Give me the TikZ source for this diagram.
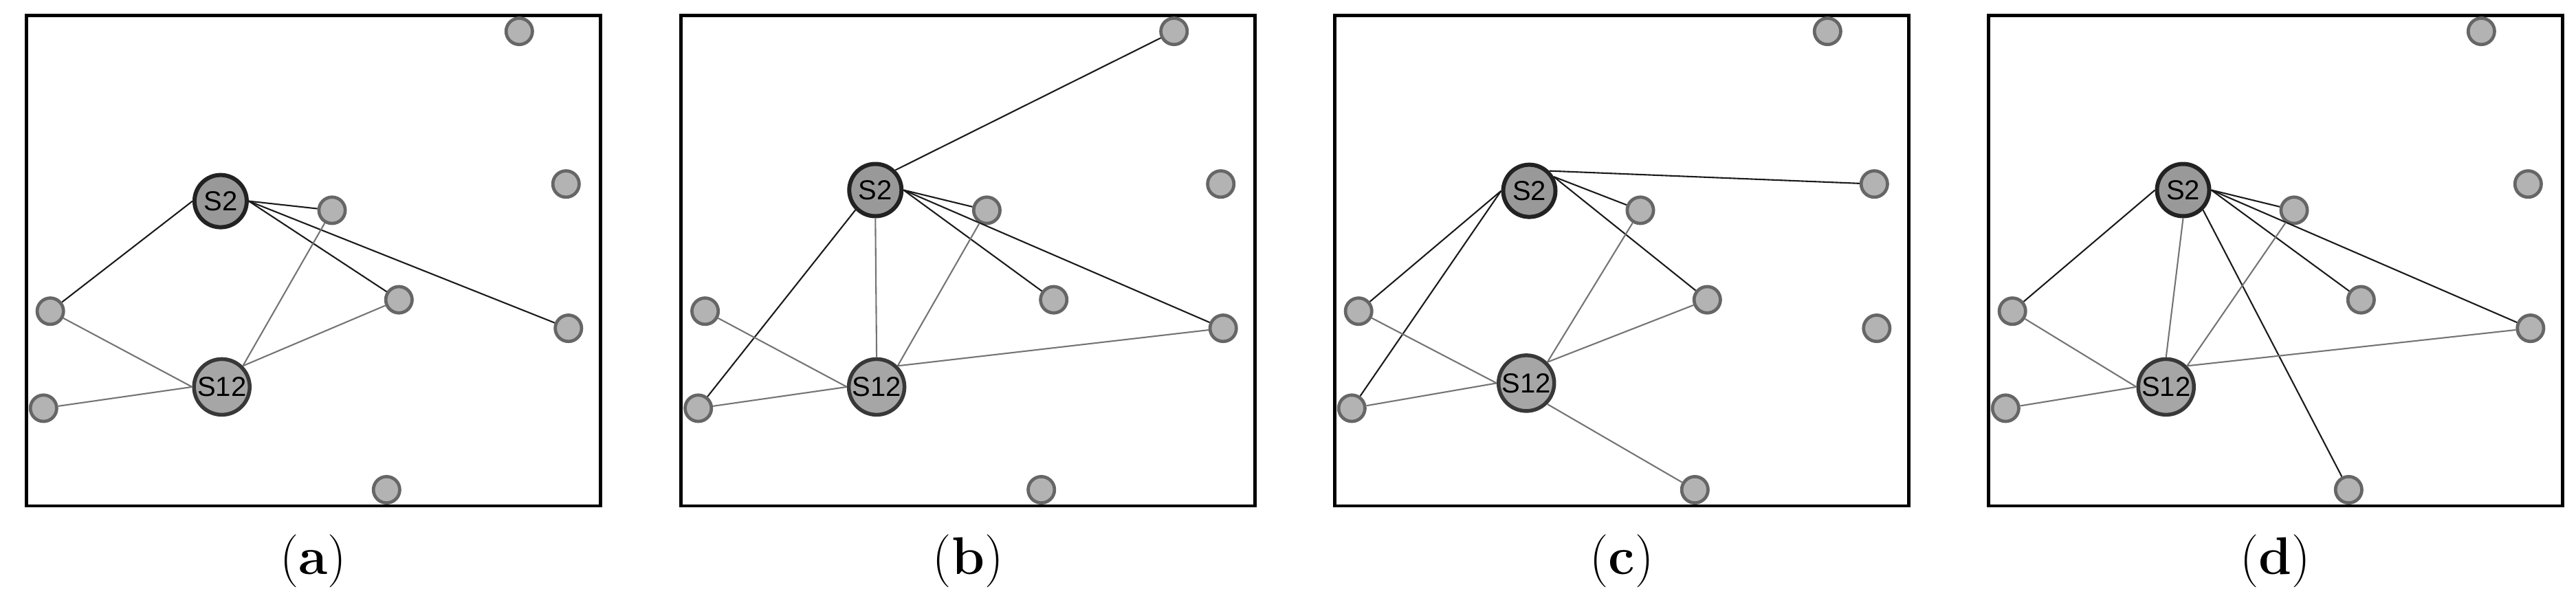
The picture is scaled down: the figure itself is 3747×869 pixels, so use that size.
\documentclass[tikz,border=0pt]{standalone}
\usepackage{fontspec}
\newfontfamily\nodefont{Liberation Sans}
\definecolor{bigfillA}{HTML}{999999}
\definecolor{bigfillB}{HTML}{A6A6A6}
\definecolor{bigdrawA}{HTML}{222222}
\definecolor{bigdrawB}{HTML}{383838}
\definecolor{smallfill}{HTML}{B3B3B3}
\definecolor{smalldraw}{HTML}{666666}
\definecolor{blackedge}{HTML}{1A1A1A}
\definecolor{grayedge}{HTML}{747474}
\tikzset{
  sn/.style={circle, draw=smalldraw, fill=smallfill, line width=0.94pt, minimum size=7.66pt, inner sep=0pt},
  hubA/.style={circle, draw=bigdrawA, fill=bigfillA, line width=1.2pt, minimum size=15.2pt, inner sep=0pt, font=\nodefont\fontsize{8}{8}\selectfont},
  hubB/.style={circle, draw=bigdrawB, fill=bigfillB, line width=1.1pt, minimum size=16.2pt, inner sep=0pt, font=\nodefont\fontsize{8}{8}\selectfont},
  frame/.style={draw=black, line width=0.92pt},
  bedge/.style={draw=blackedge, line width=0.42pt},
  gedge/.style={draw=grayedge, line width=0.42pt},
  caption/.style={anchor=base, inner sep=0pt, font=\fontsize{15.4}{18}\selectfont}
}
\begin{document}
\begin{tikzpicture}[x=0.2pt, y=-0.2pt]
\useasboundingbox (0,0) rectangle (3747,869);
% ---------- panel (a)
\begin{scope}[shift={(38.3,0)}]
\draw[frame] (0,22.3) rectangle (835,736);
\node[sn] (an1) at (717,45.6) {};
\node[sn] (an2) at (785,267.7) {};
\node[sn] (an3) at (444.7,305.9) {};
\node[sn] (an4) at (542,436.1) {};
\node[sn] (an5) at (788.5,477.6) {};
\node[sn] (an6) at (34.9,452.7) {};
\node[sn] (an7) at (25,593.9) {};
\node[sn] (an8) at (524,712.5) {};
\node[hubA] (aS2) at (282.6,292.6) {S2};
\node[hubB] (aS12) at (284.4,562.9) {S12};
\draw[bedge] (aS2.west) -- (an6);
\draw[bedge] (aS2.east) -- (an3);
\draw[bedge] (aS2.east) -- (an4);
\draw[bedge] (aS2.east) -- (an5);
\draw[gedge] (aS12.west) -- (an6);
\draw[gedge] (aS12.west) -- (an7);
\draw[gedge] (aS12.north east) -- (an3);
\draw[gedge] (aS12.north east) -- (an4);
\node[caption] (acap) at (417.5,835) {(\textbf{a})};
\end{scope}
% ---------- panel (b)
\begin{scope}[shift={(990.7,0)}]
\draw[frame] (0,22.3) rectangle (835,736);
\node[sn] (bn1) at (717,45.6) {};
\node[sn] (bn2) at (785,267.7) {};
\node[sn] (bn3) at (444.7,305.9) {};
\node[sn] (bn4) at (542,436.1) {};
\node[sn] (bn5) at (788.5,477.6) {};
\node[sn] (bn6) at (34.9,452.7) {};
\node[sn] (bn7) at (25,593.9) {};
\node[sn] (bn8) at (524,712.5) {};
\node[hubA] (bS2) at (282.6,276.5) {S2};
\node[hubB] (bS12) at (284.4,562.9) {S12};
\draw[bedge] (bS2.north east) -- (bn1);
\draw[bedge] (bS2.east) -- (bn3);
\draw[bedge] (bS2.east) -- (bn4);
\draw[bedge] (bS2.east) -- (bn5);
\draw[bedge] (bS2.south west) -- (bn7);
\draw[gedge] (bS12.north) -- (bS2.south);
\draw[gedge] (bS12.west) -- (bn6);
\draw[gedge] (bS12.west) -- (bn7);
\draw[gedge] (bS12.north east) -- (bn3);
\draw[gedge] (bS12.north east) -- (bn5);
\node[caption] (bcap) at (417.5,835) {(\textbf{b})};
\end{scope}
% ---------- panel (c)
\begin{scope}[shift={(1941.3,0)}]
\draw[frame] (0,22.3) rectangle (835,736);
\node[sn] (cn1) at (717,45.6) {};
\node[sn] (cn2) at (785,267.7) {};
\node[sn] (cn3) at (444.7,305.9) {};
\node[sn] (cn4) at (542,436.1) {};
\node[sn] (cn5) at (788.5,477.6) {};
\node[sn] (cn6) at (34.9,452.7) {};
\node[sn] (cn7) at (25,593.9) {};
\node[sn] (cn8) at (524,712.5) {};
\node[hubA] (cS2) at (283.2,277.6) {S2};
\node[hubB] (cS12) at (278.9,557.4) {S12};
\draw[bedge] (cS2.north east) -- (cn2);
\draw[bedge] (cS2.30) -- (cn3);
\draw[bedge] (cS2.30) -- (cn4);
\draw[bedge] (cS2.west) -- (cn6);
\draw[bedge] (cS2.west) -- (cn7);
\draw[gedge] (cS12.west) -- (cn6);
\draw[gedge] (cS12.west) -- (cn7);
\draw[gedge] (cS12.north east) -- (cn3);
\draw[gedge] (cS12.north east) -- (cn4);
\draw[gedge] (cS12.south east) -- (cn8);
\node[caption] (ccap) at (417.5,835) {(\textbf{c})};
\end{scope}
% ---------- panel (d)
\begin{scope}[shift={(2892.3,0)}]
\draw[frame] (0,22.3) rectangle (835,736);
\node[sn] (dn1) at (717,45.6) {};
\node[sn] (dn2) at (785,267.7) {};
\node[sn] (dn3) at (444.7,305.9) {};
\node[sn] (dn4) at (542,436.1) {};
\node[sn] (dn5) at (788.5,477.6) {};
\node[sn] (dn6) at (34.9,452.7) {};
\node[sn] (dn7) at (25,593.9) {};
\node[sn] (dn8) at (524,712.5) {};
\node[hubA] (dS2) at (283.2,276.5) {S2};
\node[hubB] (dS12) at (258.4,562.9) {S12};
\draw[bedge] (dS2.west) -- (dn6);
\draw[bedge] (dS2.east) -- (dn3);
\draw[bedge] (dS2.east) -- (dn4);
\draw[bedge] (dS2.east) -- (dn5);
\draw[bedge] (dS2.south east) -- (dn8);
\draw[gedge] (dS12.north) -- (dS2.south);
\draw[gedge] (dS12.west) -- (dn6);
\draw[gedge] (dS12.west) -- (dn7);
\draw[gedge] (dS12.north east) -- (dn3);
\draw[gedge] (dS12.north east) -- (dn5);
\node[caption] (dcap) at (417.5,835) {(\textbf{d})};
\end{scope}
\end{tikzpicture}
\end{document}
